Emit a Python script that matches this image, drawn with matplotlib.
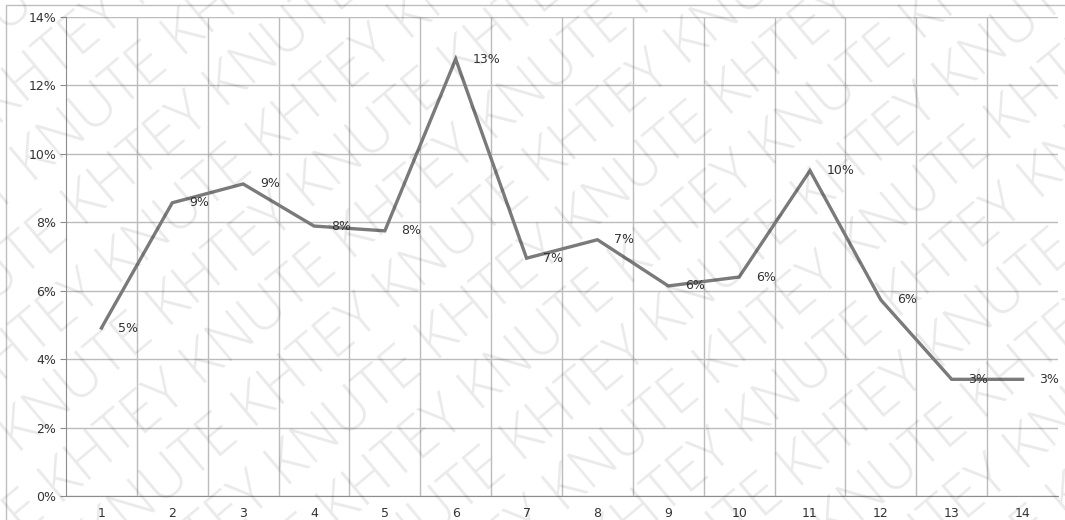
import numpy as np
import matplotlib.pyplot as plt
from matplotlib.patches import Rectangle
from matplotlib.ticker import FuncFormatter

# period numbers and share of total (in %)
periods = list(range(1, 15))
share = [4.91, 8.57, 9.12, 7.89, 7.75, 12.77, 6.95, 7.49, 6.14, 6.40, 9.51, 5.73, 3.41, 3.41]
y_ticks = [0, 2, 4, 6, 8, 10, 12, 14]
mark_words = ["KHTEY", "KNUTE"]

W, H = 1065, 520
fig = plt.figure(figsize=(W / 100, H / 100), dpi=100)
fig.patch.set_facecolor("white")

# outer chart frame
fig.patches.append(Rectangle((6 / W, -0.01), 1.02, (H - 5) / H + 0.01, transform=fig.transFigure,
                             fill=False, edgecolor="#bdbdbd", linewidth=1.0))

ax = fig.add_axes([66 / W, 24 / H, (1058 - 66) / W, (496 - 17) / H])
ax.set_xlim(0.5, 14.5)
ax.set_ylim(0, 14)

grid_c = "#bcbcbc"
for b in np.arange(1.5, 14.5, 1.0):
    ax.axvline(b, color=grid_c, linewidth=1.0, zorder=1)
ax.set_yticks(y_ticks)
ax.yaxis.grid(True, color=grid_c, linewidth=1.0, zorder=1)
ax.set_axisbelow(True)

ax.plot(periods, share, color="#7a7a7a", linewidth=2.4, solid_joinstyle="miter", zorder=3)
for p, v in zip(periods, share):
    ax.annotate(f"{v:.0f}%", (p, v), xytext=(12, 0), textcoords="offset points",
                va="center", ha="left", fontsize=9, color="#333333", zorder=4)

ax.set_xticks(periods)
ax.yaxis.set_major_formatter(FuncFormatter(lambda v, _: f"{v:.0f}%"))
ax.tick_params(axis="x", length=0, pad=8, labelsize=9, labelcolor="#333333")
ax.tick_params(axis="y", length=4, color="#8c8c8c", pad=3, labelsize=9, labelcolor="#333333")
for side in ("top", "right"):
    ax.spines[side].set_visible(False)
for side in ("left", "bottom"):
    ax.spines[side].set_color("#8c8c8c")

# diagonal watermark over the whole figure, clipped at the edges
wm = fig.add_axes([0, 0, 1, 1], zorder=10)
wm.set_xlim(0, W)
wm.set_ylim(0, H)
wm.axis("off")
wm.patch.set_alpha(0)
ang = np.deg2rad(40)
d = np.array([np.cos(ang), np.sin(ang)])
n = np.array([-np.sin(ang), np.cos(ang)])
spacing = 66
for k in range(-18, 12):
    base = np.array([W / 2, H / 2]) + k * spacing * n - 900 * d
    words = mark_words if k % 2 == 0 else mark_words[::-1]
    line = " ".join(words * 8)
    wm.text(base[0], base[1], line, fontsize=42, family=["Open Sans", "DejaVu Sans"],
            weight="light", color="black", alpha=0.085, rotation=40,
            rotation_mode="anchor", ha="left", va="center", clip_on=True)

fig.savefig("out.png", dpi=100, facecolor="white")
